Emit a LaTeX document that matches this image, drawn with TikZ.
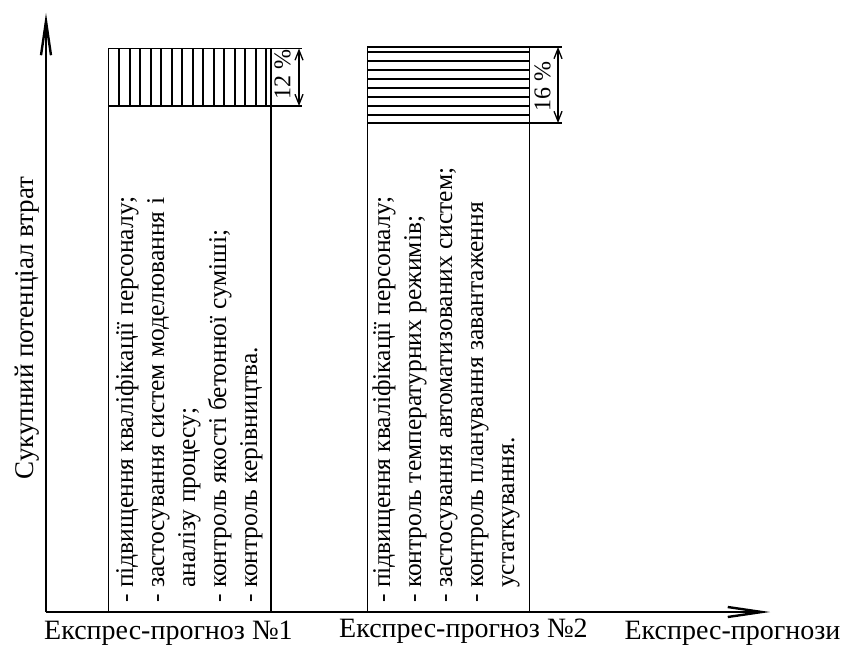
\documentclass[tikz,border=0pt]{standalone}
\usepackage{fontspec}
\setmainfont{Liberation Serif}
\usetikzlibrary{arrows.meta,positioning}

\begin{document}
\begin{tikzpicture}[x=1pt, y=1pt,
    axisline/.style={line width=2.4pt, -{Straight Barb[length=34pt,width=10pt]}},
    barframe/.style={line width=1.8pt},
    hatchline/.style={line width=1.7pt},
    dimarrow/.style={line width=1.3pt, {Straight Barb[length=10pt,width=8pt]}-{Straight Barb[length=10pt,width=8pt]}},
    bartext/.style={rotate=90, anchor=base west, inner sep=0pt, align=left, font=\fontsize{25.5}{31}\selectfont},
    pctlabel/.style={rotate=90, inner sep=0pt, font=\fontsize{24}{28}\selectfont},
    axislabel/.style={inner sep=0pt, anchor=base, font=\fontsize{28}{32}\selectfont}]
    \useasboundingbox (0,0) rectangle (842,646);

    % Axes, origin at (46,34)
    \coordinate (O) at (46,34);
    \coordinate (Ytip) at (46,633);
    \coordinate (Xtip) at (770,34);

    % Forecast 1: bar with vertical hatching (12 %)
    \coordinate (A1) at (108.5,34);
    \coordinate (B1) at (271,597.5);
    \draw[barframe] (A1) rectangle (B1);
    \draw[barframe] (108.5,540) -- (302,540);
    \draw[barframe] (B1) -- (302,597.5);
    \foreach \k in {0,...,14}
        \draw[hatchline] ({119.3+10.49*\k},540) -- ({119.3+10.49*\k},597.5);
    \coordinate (D1a) at (299,597.5);
    \coordinate (D1b) at (299,540);
    \draw[dimarrow] (D1a) -- (D1b);
    \node[pctlabel] (p1) at (282.5,571) {12 \%};

    % Forecast 2: bar with horizontal hatching (16 %)
    \coordinate (A2) at (367.5,34);
    \coordinate (B2) at (529.5,599);
    \draw[barframe] (A2) rectangle (B2);
    \draw[barframe] (367.5,523) -- (562,523);
    \draw[barframe] (B2) -- (562,599);
    \foreach \k in {0,...,7}
        \draw[hatchline] (367.5,{594.3-9*\k}) -- (529.5,{594.3-9*\k});
    \coordinate (D2a) at (558,599);
    \coordinate (D2b) at (558,523);
    \draw[dimarrow] (D2a) -- (D2b);
    \node[pctlabel] (p2) at (542.5,559) {16 \%};

    % Measures inside the bars (anchored at the last line)
    \node[bartext] (t1) at (257,43) {- підвищення кваліфікації персоналу;\\
        - застосування систем моделювання і\\
        \hphantom{- }аналізу процесу;\\
        - контроль якості бетонної суміші;\\
        - контроль керівництва.};
    \node[bartext] (t2) at (514,43) {- підвищення кваліфікації персоналу;\\
        - контроль температурних режимів;\\
        - застосування автоматизованих систем;\\
        - контроль планування завантаження\\
        \hphantom{- }устаткування.};

    \draw[axisline] (O) -- (Ytip);
    \draw[axisline] (O) -- (Xtip);

    % Axis labels
    \node[axislabel, font=\fontsize{27}{32}\selectfont, rotate=90] (ylab) at (33,318) {Сукупний потенціал втрат};
    \node[axislabel] (f1) at (168.5,6.5) {Експрес-прогноз №1};
    \node[axislabel] (f2) at (463.5,8.5) {Експрес-прогноз №2};
    \node[axislabel] (f3) at (732.5,7) {Експрес-прогнози};
\end{tikzpicture}
\end{document}
